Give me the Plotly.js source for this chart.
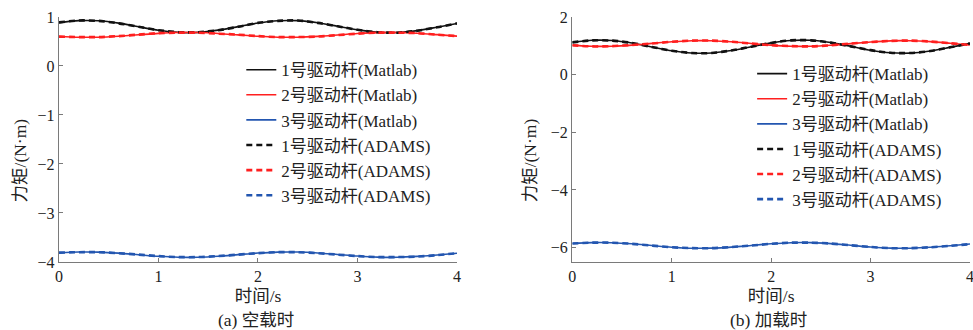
<!DOCTYPE html>
<html>
<head>
<meta charset="utf-8">
<script src="https://cdn.plot.ly/plotly-3.0.1.min.js"></script>
<style>html,body{margin:0;padding:0;background:#fff;}#chart{width:973px;height:330px;}</style>
</head>
<body>
<div id="chart"></div>
<script>
// time axis (s)
const time = [0,0.2,0.4,0.6,0.8,1.0,1.2,1.4,1.6,1.8,2.0,2.2,2.4,2.6,2.8,3.0,3.2,3.4,3.6,3.8,4.0];

// (a) no load
const a_rod1_matlab = [0.886,0.926,0.922,0.874,0.800,0.729,0.686,0.687,0.732,0.804,0.877,0.923,0.925,0.883,0.812,0.738,0.689,0.683,0.722,0.792,0.867];
const a_rod2_matlab = [0.603,0.587,0.588,0.608,0.637,0.666,0.683,0.682,0.664,0.635,0.606,0.588,0.587,0.604,0.632,0.662,0.681,0.684,0.668,0.640,0.610];
const a_rod3_matlab = [-3.814,-3.797,-3.799,-3.820,-3.852,-3.884,-3.903,-3.902,-3.882,-3.850,-3.818,-3.798,-3.797,-3.816,-3.847,-3.879,-3.901,-3.904,-3.886,-3.856,-3.823];
const a_rod1_adams = [0.89,0.93,0.92,0.87,0.80,0.73,0.69,0.69,0.73,0.80,0.88,0.92,0.93,0.88,0.81,0.74,0.69,0.68,0.72,0.79,0.87];
const a_rod2_adams = [0.60,0.59,0.59,0.61,0.64,0.67,0.68,0.68,0.66,0.64,0.61,0.59,0.59,0.60,0.63,0.66,0.68,0.68,0.67,0.64,0.61];
const a_rod3_adams = [-3.81,-3.80,-3.80,-3.82,-3.85,-3.88,-3.90,-3.90,-3.88,-3.85,-3.82,-3.80,-3.80,-3.82,-3.85,-3.88,-3.90,-3.90,-3.89,-3.86,-3.82];

// (b) loaded
const b_rod1_matlab = [1.119,1.193,1.184,1.096,0.961,0.829,0.750,0.752,0.835,0.970,1.102,1.187,1.191,1.113,0.983,0.847,0.757,0.746,0.818,0.947,1.084];
const b_rod2_matlab = [1.015,0.983,0.987,1.025,1.084,1.141,1.176,1.175,1.139,1.081,1.023,0.986,0.984,1.018,1.075,1.133,1.173,1.177,1.146,1.090,1.030];
const b_rod3_matlab = [-5.860,-5.828,-5.832,-5.870,-5.929,-5.986,-6.021,-6.020,-5.984,-5.926,-5.868,-5.831,-5.829,-5.863,-5.920,-5.978,-6.018,-6.022,-5.991,-5.935,-5.875];
const b_rod1_adams = [1.12,1.19,1.18,1.10,0.96,0.83,0.75,0.75,0.84,0.97,1.10,1.19,1.19,1.11,0.98,0.85,0.76,0.75,0.82,0.95,1.08];
const b_rod2_adams = [1.02,0.98,0.99,1.03,1.08,1.14,1.18,1.18,1.14,1.08,1.02,0.99,0.98,1.02,1.08,1.13,1.17,1.18,1.15,1.09,1.03];
const b_rod3_adams = [-5.86,-5.83,-5.83,-5.87,-5.93,-5.99,-6.02,-6.02,-5.98,-5.93,-5.87,-5.83,-5.83,-5.86,-5.92,-5.98,-6.02,-6.02,-5.99,-5.94,-5.88];

const seriesNames = ["1号驱动杆(Matlab)","2号驱动杆(Matlab)","3号驱动杆(Matlab)","1号驱动杆(ADAMS)","2号驱动杆(ADAMS)","3号驱动杆(ADAMS)"];
const xTickVals = [0,1,2,3,4];
const aYTicks = [-4,-3,-2,-1,0,1];
const bYTicks = [-6,-4,-2,0,2];
const xTitle = "时间/s";
const yTitle = "力矩/(N·m)";
const captionA = "(a) 空载时";
const captionB = "(b) 加载时";

const colors = ["#111111","#ff1f1f","#2356b0"];
const FONT = "'Liberation Serif','Times New Roman','Noto Sans CJK SC',serif";

function mk(x, y, name, ci, dashed, xa, ya, leg){
  return {
    x: x, y: y, name: name, type: "scatter", mode: "lines",
    xaxis: xa, yaxis: ya, legend: leg,
    line: {color: colors[ci], width: dashed ? 2.6 : 1.6, dash: dashed ? "6px,4px" : "solid", shape: "spline", smoothing: 0.8}
  };
}

const aM = [a_rod1_matlab, a_rod2_matlab, a_rod3_matlab];
const aA = [a_rod1_adams, a_rod2_adams, a_rod3_adams];
const bM = [b_rod1_matlab, b_rod2_matlab, b_rod3_matlab];
const bA = [b_rod1_adams, b_rod2_adams, b_rod3_adams];

const traces = [];
for (let i = 0; i < 3; i++) traces.push(mk(time, aM[i], seriesNames[i], i, false, "x", "y", "legend"));
for (let i = 0; i < 3; i++) traces.push(mk(time, aA[i], seriesNames[i+3], i, true, "x", "y", "legend"));
for (let i = 0; i < 3; i++) traces.push(mk(time, bM[i], seriesNames[i], i, false, "x2", "y2", "legend2"));
for (let i = 0; i < 3; i++) traces.push(mk(time, bA[i], seriesNames[i+3], i, true, "x2", "y2", "legend2"));

const axisCommon = {
  showline: true, linecolor: "#7a7a7a", linewidth: 1.3,
  ticks: "inside", ticklen: 4, tickcolor: "#7a7a7a", tickwidth: 1,
  showgrid: false, zeroline: false, mirror: false,
  ticklabeloverflow: "allow",
  tickfont: {family: FONT, size: 16, color: "#222"}
};

const legendCommon = {
  bgcolor: "rgba(0,0,0,0)", borderwidth: 0,
  font: {family: FONT, size: 17, color: "#222"},
  xanchor: "left", yanchor: "top", tracegroupgap: 0
};

const titleFont = {family: FONT, size: 17.5, color: "#222"};

const layout = {
  width: 973, height: 330,
  margin: {l: 0, r: 0, t: 0, b: 0},
  paper_bgcolor: "#fff", plot_bgcolor: "#fff",
  font: {family: FONT, color: "#222"},
  xaxis: Object.assign({}, axisCommon, {domain: [0.0606, 0.4697], range: [0, 4], tickvals: xTickVals, anchor: "y",
    title: {text: xTitle, font: titleFont, standoff: 5}}),
  yaxis: Object.assign({}, axisCommon, {domain: [0.2061, 0.9485], range: [-4, 1], tickvals: aYTicks, anchor: "x"}),
  xaxis2: Object.assign({}, axisCommon, {domain: [0.5882, 0.9969], range: [0, 4], tickvals: xTickVals, anchor: "y2",
    title: {text: xTitle, font: titleFont, standoff: 5}}),
  yaxis2: Object.assign({}, axisCommon, {domain: [0.2061, 0.9485], range: [-6.5, 2], tickvals: bYTicks, anchor: "x2"}),
  legend: Object.assign({}, legendCommon, {x: 0.248, y: 0.842}),
  legend2: Object.assign({}, legendCommon, {x: 0.773, y: 0.830}),
  annotations: [
    {text: yTitle, xref: "paper", yref: "paper", x: 0.021, y: 0.515, xanchor: "center", yanchor: "middle", textangle: -90, showarrow: false,
     font: titleFont},
    {text: yTitle, xref: "paper", yref: "paper", x: 0.545, y: 0.515, xanchor: "center", yanchor: "middle", textangle: -90, showarrow: false,
     font: titleFont},
    {text: captionA, xref: "paper", yref: "paper", x: 0.263, y: 0.0303, xanchor: "center", yanchor: "middle", showarrow: false,
     font: titleFont},
    {text: captionB, xref: "paper", yref: "paper", x: 0.79, y: 0.0303, xanchor: "center", yanchor: "middle", showarrow: false,
     font: titleFont}
  ],
  showlegend: true
};

Plotly.newPlot("chart", traces, layout, {staticPlot: true, displayModeBar: false});
</script>
</body>
</html>
